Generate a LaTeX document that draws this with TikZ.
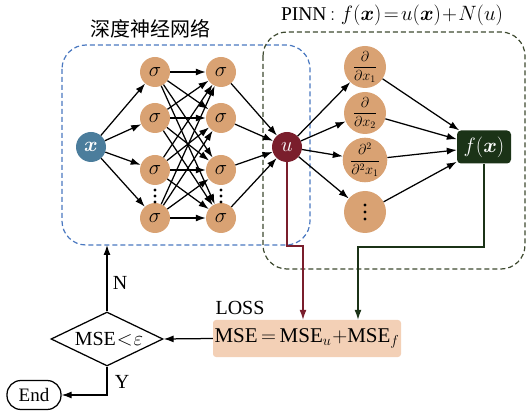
\documentclass[tikz,border=0pt]{standalone}
\usepackage{amsmath,bm}
\usepackage{fontspec}
\setmainfont{Liberation Serif}
\newfontfamily\cjk{Noto Sans CJK SC}
\usetikzlibrary{arrows.meta,shapes.geometric}
\definecolor{nodeor}{HTML}{D9A273}
\definecolor{xblue}{HTML}{4B7D9C}
\definecolor{ured}{HTML}{7A1E2C}
\definecolor{fgreen}{HTML}{1B3317}
\definecolor{boxblue}{HTML}{4A78C0}
\definecolor{boxgreen}{HTML}{3E4A30}
\definecolor{lossfill}{HTML}{F3D0B6}
\begin{document}
\begin{tikzpicture}[x=1pt,y=-1pt,
  every node/.style={font=\fontsize{20}{22}\selectfont},
  neuron/.style={circle,fill=nodeor,minimum size=30pt,inner sep=0pt},
  dnode/.style={circle,fill=nodeor,minimum size=42pt,inner sep=0pt,font=\fontsize{14}{15}\selectfont},
  conn/.style={line width=1.25pt,-{Latex[length=10pt,width=7pt]}},
  dashbox/.style={line width=1.2pt,dash pattern=on 5pt off 3pt,rounded corners=24pt},
  dotmark/.style={fill=black}
]
\useasboundingbox (0,0) rectangle (527,411);
% dashed frames
\draw[dashbox,boxblue] (62,45) rectangle (310,245);
\draw[dashbox,boxgreen] (263,32) rectangle (525,269);
% titles
\node (t1) at (150,29) {\cjk 深度神经网络};
\node[font=\fontsize{19.5}{21}\selectfont] (t2) at (392,15) {PINN$\,:f(\bm{x})\!=\!u(\bm{x})\!+\!N(u)$};
% input
\node[circle,fill=xblue,minimum size=30pt,inner sep=0pt,text=white] (x) at (91,147) {$\bm{x}$};
% hidden layers
\foreach \i/\y in {1/72,2/118,3/170,4/218}{
  \node[neuron] (a\i) at (155,\y) {$\sigma$};
  \node[neuron] (b\i) at (221,\y) {$\sigma$};
}
\foreach \yy in {190,196,202}{
  \fill[dotmark] (155,\yy) circle (1.6pt);
  \fill[dotmark] (221,\yy) circle (1.6pt);
}
% u
\node[circle,fill=ured,minimum size=30pt,inner sep=0pt,text=white] (u) at (287,147) {$u$};
% derivative nodes
\node[dnode] (d1) at (365,67) {$\dfrac{\partial}{\partial x_1}$};
\node[dnode] (d2) at (365,113) {$\dfrac{\partial}{\partial x_2}$};
\node[dnode] (d3) at (365,160) {$\dfrac{\partial^2}{\partial^2 x_1}$};
\node[dnode] (d4) at (365,212) {};
\foreach \yy in {205,212,219}{
  \fill[dotmark] (365,\yy) circle (1.7pt);
}
% f(x)
\node[fill=fgreen,text=white,rounded corners=4pt,minimum width=54pt,minimum height=33pt,inner sep=0pt] (f) at (484,147) {$f(\bm{x})$};
% connections
\foreach \i in {1,2,3,4}{
  \draw[conn] (x) -- (a\i);
  \draw[conn] (b\i) -- (u);
  \draw[conn] (u) -- (d\i);
  \draw[conn] (d\i) -- (f);
  \foreach \j in {1,2,3,4}{
    \draw[conn] (a\i) -- (b\j);
  }
}
% loss box
\node[fill=lossfill,rounded corners=3pt,minimum width=188pt,minimum height=37pt,inner sep=0pt,font=\fontsize{21}{23}\selectfont] (mse) at (307,338.5) {MSE\,$=$\,MSE$_u$\kern1pt$+$MSE$_f$};
\node (loss) at (240,308) {LOSS};
% decision
\node[diamond,draw,line width=1.25pt,minimum width=112pt,minimum height=54pt,inner sep=0pt] (dec) at (107,339) {};
\node (dectxt) at (109,339) {MSE\kern1pt$<$\kern1pt$\varepsilon$};
\node[draw,line width=1.25pt,rounded corners=14pt,minimum width=54pt,minimum height=29pt,inner sep=0pt,font=\fontsize{19}{21}\selectfont] (end) at (34,395) {End};
\node (nlab) at (120,283) {N};
\node (ylab) at (122,382) {Y};
\coordinate (nb) at (107,245);
\coordinate (r1) at (303,246);
\coordinate (g1) at (358,247);
% lower connectors
\draw[conn,ured] (u.south) |- (r1) -- (r1 |- mse.north);
\draw[conn,fgreen] (f.south) |- (g1) -- (g1 |- mse.north);
\draw[conn] (mse.west) -- (dec.east);
\draw[conn] (dec.north) -- (nb);
\draw[conn] (dec.south) |- (end.east);
\end{tikzpicture}
\end{document}
